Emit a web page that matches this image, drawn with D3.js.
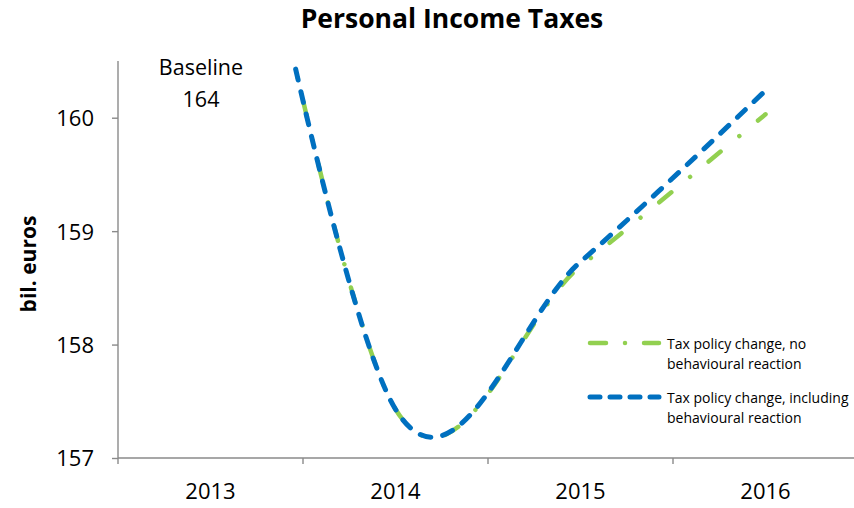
<!DOCTYPE html>
<html>
<head>
<meta charset="utf-8">
<script src="https://cdn.jsdelivr.net/npm/d3@7"></script>
<style>
  body { margin: 0; background: #fff; }
  svg { display: block; }
  text { font-family: "Open Sans", "Noto Sans", sans-serif; fill: #000; }
</style>
</head>
<body>
<svg id="chart" width="854" height="508"></svg>
<script>
// ---- data ----
const categories = ["2013", "2014", "2015", "2016"];
const noReaction = [164, 157.43, 158.69, 160.03];
const withReaction = [164, 157.43, 158.73, 160.24];
const yTicks = [157, 158, 159, 160];
const seriesNames = ["Tax policy change, no|behavioural reaction",
                     "Tax policy change, including|behavioural reaction"];
const titleText = "Personal Income Taxes";
const yAxisTitle = "bil. euros";
const baselineLabel = ["Baseline", "164"];

// ---- layout ----
const svg = d3.select("#chart");
const plot = { left: 118, right: 858, top: 61, bottom: 458 };
const axisColor = "#8a8a8a";

const x = d3.scaleBand().domain(categories).range([plot.left, plot.right]).padding(0);
const y = d3.scaleLinear().domain([157, 160.5]).range([plot.bottom, plot.top]);
const cx = c => x(c) + x.bandwidth() / 2;

// title
svg.append("text")
  .attr("x", 452).attr("y", 28)
  .attr("text-anchor", "middle")
  .style("font-size", "26.5px").style("font-weight", "bold")
  .text(titleText);

// y axis title
svg.append("text")
  .attr("transform", "translate(36,264) rotate(-90)")
  .attr("text-anchor", "middle")
  .style("font-size", "21px").style("font-weight", "bold")
  .text(yAxisTitle);

// y axis
const yAxis = svg.append("g")
  .attr("transform", `translate(${plot.left},0)`)
  .call(d3.axisLeft(y).tickValues(yTicks).tickSize(6).tickPadding(18).tickFormat(d3.format("d")));
yAxis.select(".domain").attr("d", `M0,${plot.top}V${plot.bottom}`).attr("stroke", axisColor).attr("stroke-width", 1.4);
yAxis.selectAll(".tick line").attr("stroke", axisColor).attr("stroke-width", 1.4);
yAxis.selectAll(".tick text").style("font-size", "22px").attr("fill", "#000").attr("dy", "0.36em");

// x axis
const xAxis = svg.append("g")
  .attr("transform", `translate(0,${plot.bottom})`)
  .call(d3.axisBottom(x).tickSize(0).tickPadding(0));
xAxis.select(".domain").attr("d", `M${plot.left},0H${plot.right}`).attr("stroke", axisColor).attr("stroke-width", 1.4);
xAxis.selectAll(".tick text").style("font-size", "22px").attr("fill", "#000").attr("y", 41).attr("dy", 0);
const bounds = categories.map(c => x(c)).concat([x(categories[categories.length - 1]) + x.bandwidth()]);
xAxis.selectAll(".bound").data(bounds).enter().append("line")
  .attr("class", "bound")
  .attr("x1", d => d).attr("x2", d => d)
  .attr("y1", 0).attr("y2", 6)
  .attr("stroke", axisColor).attr("stroke-width", 1.4);

// baseline label
svg.append("text")
  .attr("text-anchor", "middle")
  .style("font-size", "21.5px")
  .selectAll("tspan").data(baselineLabel).enter().append("tspan")
  .attr("x", 201).attr("y", (d, i) => 75 + i * 32)
  .text(d => d);

// clip
svg.append("clipPath").attr("id", "clip")
  .append("rect").attr("x", plot.left).attr("y", plot.top - 1)
  .attr("width", plot.right - plot.left).attr("height", plot.bottom - plot.top + 1);

const line = d3.line()
  .x((d, i) => cx(categories[i]))
  .y(d => y(d))
  .curve(d3.curveCardinal.tension(0));

const g = svg.append("g").attr("clip-path", "url(#clip)");
g.append("path").datum(noReaction)
  .attr("d", line).attr("fill", "none")
  .attr("stroke", "#92D050").attr("stroke-width", 4.5)
  .attr("stroke-linecap", "round")
  .attr("stroke-dasharray", "15.5,24.2,0.01,24.2");
g.append("path").datum(withReaction)
  .attr("d", line).attr("fill", "none")
  .attr("stroke", "#0070C0").attr("stroke-width", 5)
  .attr("stroke-linecap", "round")
  .attr("stroke-dasharray", "11,12");

// legend
const legend = [
  { name: seriesNames[0], color: "#92D050", w: 4.5, dash: "16,19,0.01,19", ly: 343, ty: 349 },
  { name: seriesNames[1], color: "#0070C0", w: 5, dash: "10,10", ly: 397, ty: 403 }
];
const lg = svg.append("g");
legend.forEach(l => {
  lg.append("line")
    .attr("x1", 590).attr("x2", 659).attr("y1", l.ly).attr("y2", l.ly)
    .attr("stroke", l.color).attr("stroke-width", l.w)
    .attr("stroke-linecap", "round").attr("stroke-dasharray", l.dash);
  lg.append("text").style("font-size", "14px")
    .selectAll("tspan").data(l.name.split("|")).enter().append("tspan")
    .attr("x", 667).attr("y", (d, i) => l.ty + i * 20)
    .text(d => d);
});
</script>
</body>
</html>
